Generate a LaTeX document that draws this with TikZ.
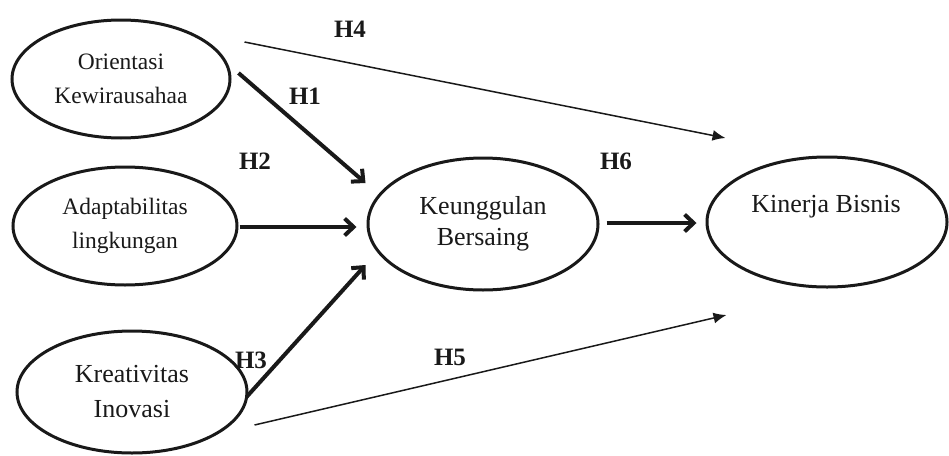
\documentclass[tikz,border=0pt]{standalone}
\usepackage{fontspec}
\setmainfont{Liberation Serif}
\usetikzlibrary{arrows.meta,shapes.geometric}
\definecolor{ink}{RGB}{25,25,25}
\tikzset{
  ell/.style={draw=ink, ellipse, line width=3pt, inner sep=0pt, align=center, text=ink},
  txtA/.style={font=\fontsize{23.5}{34}\selectfont},
  txtB/.style={font=\fontsize{26}{31}\selectfont},
  txtC/.style={font=\fontsize{26}{35}\selectfont},
  hlab/.style={font=\fontsize{25}{26}\selectfont\bfseries, text=ink, inner sep=0pt},
  thickarr/.style={draw=ink, line width=4pt, -{Straight Barb[length=9pt,width=17pt]}},
  thinarr/.style={draw=ink, line width=1.5pt, -{Latex[length=13pt,width=11pt]}},
}
\begin{document}
\begin{tikzpicture}[x=1pt,y=-1pt]
\useasboundingbox (0,0) rectangle (949,455);
\node[ell, txtA, minimum width=218pt, minimum height=118pt] (o) at (121,79) {Orientasi\\Kewirausahaa};
\node[ell, txtA, minimum width=224pt, minimum height=118pt] (a) at (125,226) {Adaptabilitas\\lingkungan};
\node[ell, txtC, minimum width=230pt, minimum height=122pt] (kr) at (132,392) {Kreativitas\\Inovasi};
\node[ell, txtB, minimum width=230pt, minimum height=132pt] (k) at (483,224) {\raisebox{6pt}{\begin{tabular}{@{}c@{}}Keunggulan\\Bersaing\end{tabular}}};
\node[ell, minimum width=240pt, minimum height=130pt] (kb) at (827,222) {};
\node[txtB, text=ink, inner sep=0pt, anchor=base] (kbt) at (826,212) {Kinerja Bisnis};

\draw[thickarr] ([shift={(7,-6)}]o.east) -- ([shift={(-1,-41)}]k.west);
\draw[thickarr] ([shift={(1,1)}]a.east) -- ([shift={(-10,3)}]k.west);
\draw[thickarr] ([shift={(-2,5)}]kr.east) -- ([shift={(-1,41)}]k.west);
\draw[thinarr] ([shift={(13,-37)}]o.east) -- ([shift={(20,-84)}]kb.west);
\draw[thinarr] ([shift={(6,33)}]kr.east) -- ([shift={(21,93)}]kb.west);
\draw[thickarr] ([shift={(7,-1)}]k.east) -- ([shift={(-9,1)}]kb.west);

\node[hlab] (h1) at (305,96) {H1};
\node[hlab] (h2) at (255,161) {H2};
\node[hlab] (h3) at (251,360) {H3};
\node[hlab] (h4) at (350,29) {H4};
\node[hlab] (h5) at (450,357) {H5};
\node[hlab] (h6) at (616,161) {H6};
\end{tikzpicture}
\end{document}
